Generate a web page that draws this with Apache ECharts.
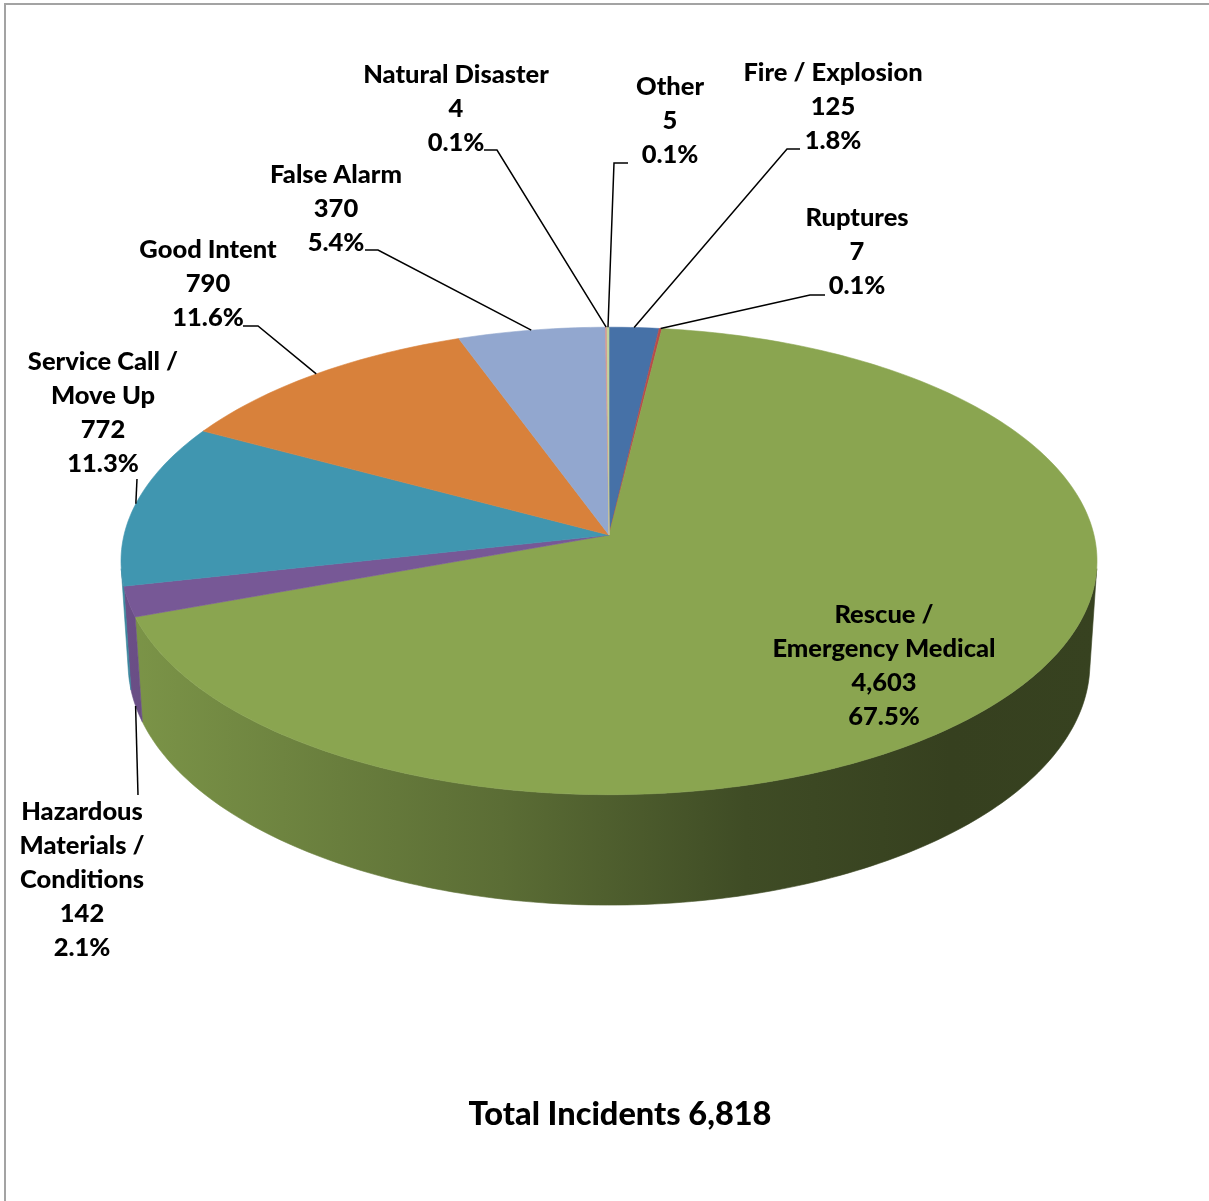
<!DOCTYPE html>
<html>
<head>
<meta charset="utf-8">
<script src="https://cdn.jsdelivr.net/npm/echarts@6/dist/echarts.min.js"></script>
<style>
  html, body { margin: 0; padding: 0; background: #fff; }
  #chart { width: 1209px; height: 1201px; }
</style>
</head>
<body>
<div id="chart"></div>
<script>
  // slices in clockwise order from 12 o'clock
  var categories = ['Fire / Explosion', 'Ruptures', 'Rescue /\nEmergency Medical', 'Hazardous\nMaterials /\nConditions',
    'Service Call /\nMove Up', 'Good Intent', 'False Alarm', 'Natural Disaster', 'Other'];
  var incidents = [125, 7, 4603, 142, 772, 790, 370, 4, 5];
  var sliceColors = ['#4671a7', '#b94b48', '#8aa550', '#775896', '#4096b0', '#d8813b', '#92a7cf', '#d59592', '#c2d49a'];
  var titlePrefix = 'Total Incidents ';

  // where each label sits (centre of the text block) and the elbow of its leader line
  var labelLayout = [
    { x: 833, y: 107, elbow: [[800, 149], [787, 149]] },
    { x: 857, y: 252, elbow: [[825, 295], [810, 295]] },
    { x: 884, y: 666, elbow: null },
    { x: 82, y: 880, elbow: [[138, 795]], base: true },
    { x: 103, y: 413, elbow: [[137, 479]] },
    { x: 208, y: 284, elbow: [[243, 326], [258, 326]] },
    { x: 336, y: 209, elbow: [[365, 250], [378, 250]] },
    { x: 456, y: 109, elbow: [[484, 150], [497, 150]] },
    { x: 670, y: 121, elbow: [[628, 163], [614, 163]] }
  ];

  // camera for the tilted disc
  var view = { cx: 609, cy: 535, focal: 3841, dist: 7.92, sinT: 0.476, cosT: 0.879, depth: 0.243 };

  var total = incidents.reduce(function (a, b) { return a + b; }, 0);
  var starts = [];
  var acc = 0;
  incidents.forEach(function (v) { starts.push(acc / total * 360); acc += v; });

  // visible part of the outer wall
  var silA = Math.acos(-1 / (view.dist * view.cosT)) * 180 / Math.PI;
  var silB = 360 - silA;

  function project(ang, r, z) {
    var a = ang * Math.PI / 180;
    var X = r * Math.sin(a), Y = r * Math.cos(a);
    var den = view.dist + Y * view.cosT - z * view.sinT;
    return [view.cx + view.focal * X / den, view.cy - view.focal * (Y * view.sinT + z * view.cosT) / den];
  }

  function shade(hex, f) {
    var n = parseInt(hex.slice(1), 16);
    var r = Math.round(((n >> 16) & 255) * f), g = Math.round(((n >> 8) & 255) * f), b = Math.round((n & 255) * f);
    return 'rgb(' + r + ',' + g + ',' + b + ')';
  }

  function wallFill(hex) {
    return {
      type: 'linear', x: 121, y: 0, x2: 1097, y2: 0, global: true,
      colorStops: [
        { offset: 0, color: shade(hex, 0.9) },
        { offset: 0.39, color: shade(hex, 0.66) },
        { offset: 0.64, color: shade(hex, 0.46) },
        { offset: 0.85, color: shade(hex, 0.39) },
        { offset: 1, color: shade(hex, 0.4) }
      ]
    };
  }

  function renderSlice(params, api) {
    var i = params.dataIndex;
    var v = api.value(0);
    var a0 = starts[i], a1 = a0 + v / total * 360;
    var color = sliceColors[i];
    var children = [];

    var n = Math.max(2, Math.ceil(a1 - a0));
    var pts = [project(0, 0, 0)];
    for (var k = 0; k <= n; k++) pts.push(project(a0 + (a1 - a0) * k / n, 1, 0));
    children.push({ type: 'polygon', z2: 10, shape: { points: pts }, style: { fill: color, stroke: color, lineWidth: 0.6 } });

    var w0 = Math.max(a0, silA), w1 = Math.min(a1, silB);
    if (w1 > w0) {
      var m = Math.max(2, Math.ceil(w1 - w0));
      var top = [], bot = [];
      for (var j = 0; j <= m; j++) {
        var a = w0 + (w1 - w0) * j / m;
        top.push(project(a, 1, 0));
        bot.push(project(a, 1, -view.depth));
      }
      var fill = wallFill(color);
      children.push({ type: 'polygon', z2: 5, shape: { points: top.concat(bot.reverse()) }, style: { fill: fill, stroke: fill, lineWidth: 0.6 } });
    }

    var lay = labelLayout[i];
    var pct = (v / total * 100).toFixed(1) + '%';
    children.push({
      type: 'text', z2: 30,
      style: {
        text: categories[i] + '\n' + v.toLocaleString('en-US') + '\n' + pct,
        x: lay.x, y: lay.y, align: 'center', verticalAlign: 'middle',
        font: '900 25.5px Lato', lineHeight: 34, fill: '#000'
      }
    });
    if (lay.elbow) {
      var mid = (a0 + a1) / 2;
      var anchor = project(mid, 1, lay.base ? -view.depth : 0);
      children.push({
        type: 'polyline', z2: 25,
        shape: { points: lay.elbow.concat([anchor]) },
        style: { stroke: '#000', lineWidth: 1.5, fill: null }
      });
    }
    return { type: 'group', children: children };
  }

  var chart = echarts.init(document.getElementById('chart'));
  chart.setOption({
    backgroundColor: '#fff',
    animation: false,
    graphic: [
      { type: 'rect', shape: { x: 5, y: 4, width: 1240, height: 1240 }, style: { fill: null, stroke: '#a3a3a3', lineWidth: 2 } },
      {
        type: 'text', x: 620, y: 1115,
        style: { text: titlePrefix + total.toLocaleString('en-US'), font: '900 32.5px Lato', fill: '#000', align: 'center', verticalAlign: 'middle' }
      }
    ],
    series: [{
      type: 'custom',
      coordinateSystem: 'none',
      silent: true,
      renderItem: renderSlice,
      data: incidents
    }]
  });
</script>
</body>
</html>
